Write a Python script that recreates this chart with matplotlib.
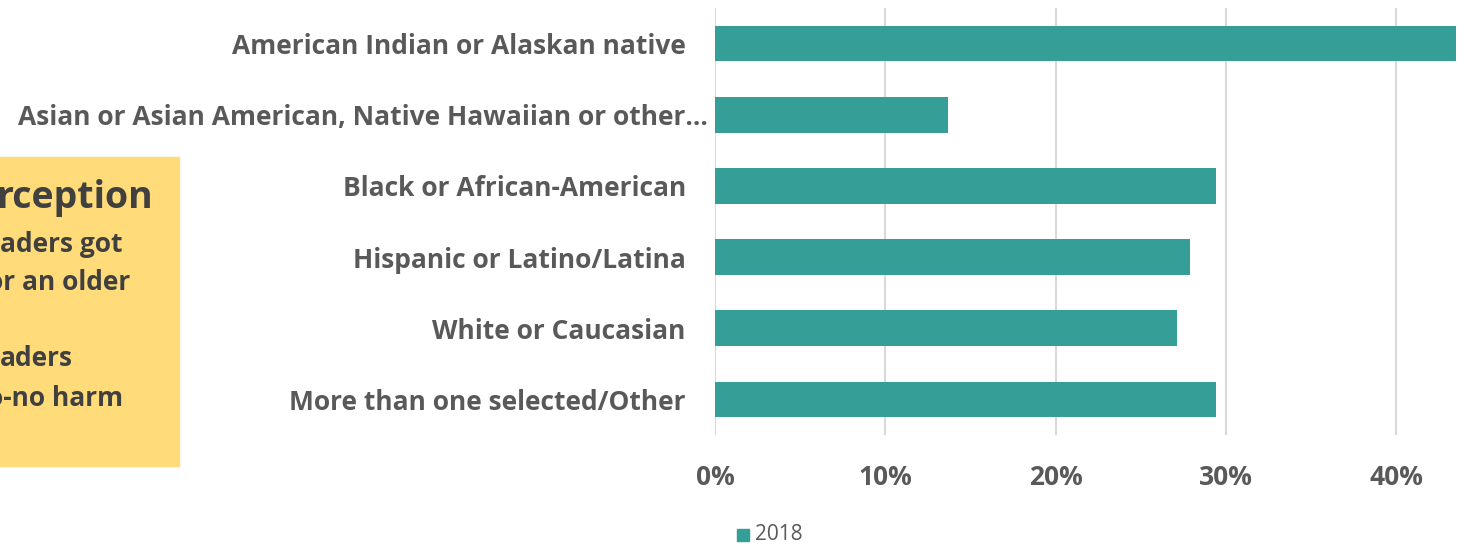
import matplotlib
matplotlib.use("Agg")
import matplotlib.pyplot as plt
from matplotlib.patches import Rectangle
from matplotlib.ticker import FuncFormatter
from matplotlib.transforms import ScaledTranslation

plt.rcParams['font.family'] = ['Open Sans', 'DejaVu Sans']

groups = ['American Indian or Alaskan native',
          'Asian or Asian American, Native Hawaiian or other…',
          'Black or African-American',
          'Hispanic or Latino/Latina',
          'White or Caucasian',
          'More than one selected/Other']
share_2018 = [0.435, 0.137, 0.294, 0.279, 0.271, 0.294]
x_ticks = [0, 0.1, 0.2, 0.3, 0.4]

teal = '#359e96'
grey_txt = '#595959'

fig = plt.figure(figsize=(14.64, 5.46), dpi=100)
ax = fig.add_axes([715 / 1464, 1 - 435 / 546, 1 - 715 / 1464, (435 - 8) / 546])

ypos = list(range(len(groups)))
ax.barh(ypos, share_2018, height=0.5, color=teal, zorder=3)
ax.set_ylim(len(groups) - 0.5, -0.5)
ax.set_xlim(0, 0.4398)

ax.set_yticks(ypos)
ax.set_yticklabels(groups, fontsize=19, fontweight='bold', color=grey_txt)
ax.set_xticks(x_ticks)
ax.xaxis.set_major_formatter(FuncFormatter(lambda v, p: f'{v * 100:.0f}%'))
for lab in ax.get_xticklabels():
    lab.set_fontsize(19)
    lab.set_fontweight('bold')
    lab.set_color(grey_txt)
ax.tick_params(axis='both', length=0)
ax.tick_params(axis='y', pad=21)
ax.tick_params(axis='x', pad=21)
ax.grid(axis='x', color='#d9d9d9', linewidth=1.5, zorder=0)
for s in ax.spines.values():
    s.set_visible(False)

# the long truncated label runs closer to the axis
long_lab = ax.yaxis.get_major_ticks()[1].label1
long_lab.set_transform(long_lab.get_transform()
                       + ScaledTranslation(0.22, 0, fig.dpi_scale_trans))

# legend marker and label under the axis
fig.patches.append(Rectangle((737 / 1464, 1 - 541 / 546), 12 / 1464, 12 / 546,
                             transform=fig.transFigure, color=teal))
fig.text(755 / 1464, 1 - 534 / 546, '2018', fontsize=15, color=grey_txt, va='center')

# yellow note box on the left, cut at the figure edge
fig.patches.append(Rectangle((0, 1 - 466 / 546), 179 / 1464, (466 - 157) / 546,
                             transform=fig.transFigure, color='#ffdb7a', zorder=0))
fig.text(-4 / 1464, 1 - 198 / 546, 'rception', fontsize=27, fontweight='bold',
         color='#404040', va='center')
note_lines = [('aders got', 0, 244), ('or an older', -13, 283),
              ('aders', 0, 359), ('o-no harm', -13, 398)]
for txt, x0, y0 in note_lines:
    fig.text(x0 / 1464, 1 - y0 / 546, txt, fontsize=19, fontweight='bold',
             color='#404040', va='center')

fig.savefig('out.png', dpi=100)
